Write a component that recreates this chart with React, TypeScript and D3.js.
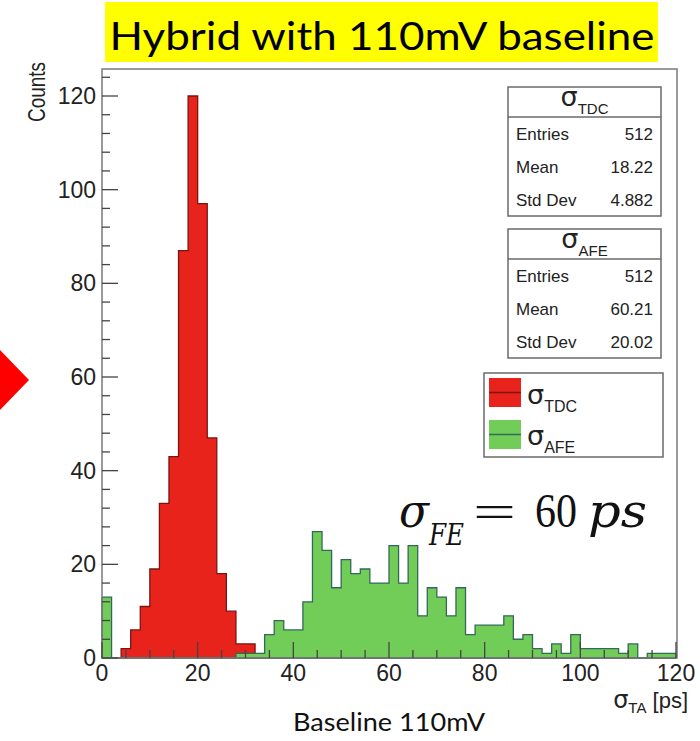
import React from 'react';
import * as d3 from 'd3';

// ---- data ----
const binWidth = 2;
const xDomain = [0, 120];
const yDomain = [0, 120];
const tdcCounts = [
  0, 0, 2, 6, 11, 19, 33, 43, 87, 120, 97, 47, 18, 10, 3, 3, 0, 0, 0, 0,
  0, 0, 0, 0, 0, 0, 0, 0, 0, 0, 0, 0, 0, 0, 0, 0, 0, 0, 0, 0,
  0, 0, 0, 0, 0, 0, 0, 0, 0, 0, 0, 0, 0, 0, 0, 0, 0, 0, 0, 0,
];
const afeCounts = [
  13, 0, 0, 0, 0, 0, 0, 0, 0, 0, 0, 0, 0, 0, 1, 1, 1, 5, 8, 6,
  6, 12, 27, 23, 15, 21, 18, 19, 16, 16, 24, 16, 24, 9, 15, 13, 9, 15, 5, 7,
  7, 7, 9, 4, 5, 2, 1, 3, 1, 5, 2, 2, 2, 2, 1, 3, 0, 1, 1, 1,
];
const xTicks = [0, 20, 40, 60, 80, 100, 120];
const yTicks = [0, 20, 40, 60, 80, 100, 120];
const tdcStats = [
  ['Entries', '512'],
  ['Mean', '18.22'],
  ['Std Dev', '4.882'],
];
const afeStats = [
  ['Entries', '512'],
  ['Mean', '60.21'],
  ['Std Dev', '20.02'],
];

const W = 700;
const H = 741;
const frame = { left: 102, right: 677, top: 69, bottom: 658 };

const RED = '#e8231b';
const RED_LINE = '#7a1512';
const GREEN = '#72cd58';
const GREEN_LINE = '#33695a';
const SANS = '"Liberation Sans", Arial, Helvetica, sans-serif';
const GREEK = '"DejaVu Sans", "Liberation Sans", sans-serif';
const SERIF = '"DejaVu Serif", "Liberation Serif", serif';
const SERIF2 = '"Liberation Serif", "DejaVu Serif", serif';

const x = d3.scaleLinear().domain(xDomain).range([102, 676]);
const y = d3.scaleLinear().domain(yDomain).range([658, 96]);

function histPath(counts: number[]): string {
  const pts: [number, number][] = [[x(0), y(0)]];
  counts.forEach((c, i) => {
    pts.push([x(i * binWidth), y(c)]);
    pts.push([x((i + 1) * binWidth), y(c)]);
  });
  pts.push([x(counts.length * binWidth), y(0)]);
  return (d3.line()(pts) || '') + 'Z';
}

function StatBox({ top, sub, rows }: { top: number; sub: string; rows: string[][] }) {
  const left = 508;
  const right = 661;
  const headH = 30;
  const h = 129;
  const rowH = 33;
  return (
    <g>
      <rect x={left} y={top} width={right - left} height={h} fill="#fff" stroke="#6a6a6a" strokeWidth={1.5} />
      <line x1={left} x2={right} y1={top + headH} y2={top + headH} stroke="#6a6a6a" strokeWidth={1.5} />
      <text x={(left + right) / 2} y={top + 19} textAnchor="middle" fill="#222">
        <tspan fontFamily={GREEK} fontSize={27}>σ</tspan>
        <tspan fontFamily={SANS} fontSize={15} dy={8}>{sub}</tspan>
      </text>
      {rows.map((r, i) => (
        <g key={r[0]}>
          <text x={left + 8} y={top + headH + 23 + i * rowH} fontFamily={SANS} fontSize={17} fill="#222">
            {r[0]}
          </text>
          <text x={right - 8} y={top + headH + 23 + i * rowH} fontFamily={SANS} fontSize={17} fill="#222" textAnchor="end">
            {r[1]}
          </text>
        </g>
      ))}
    </g>
  );
}

export default function App() {
  const xMinor = d3.range(0, 121, 5).filter((v) => v % 20 !== 0);
  const yMinor = d3.range(0, 126, 4).filter((v) => v % 20 !== 0);
  return (
    <svg width={W} height={H} style={{ position: 'absolute', left: 0, top: 0, background: '#fff' }}>
      <rect x={0} y={0} width={W} height={H} fill="#fff" />
      {/* title */}
      <rect x={105} y={2} width={553} height={60} fill="#ffff00" />
      <text x={382} y={50} textAnchor="middle" fontFamily="Lato, 'Open Sans', sans-serif" fontSize={38} fill="#000" textLength={545} lengthAdjust="spacingAndGlyphs">
        Hybrid with 110mV baseline
      </text>
      {/* red arrow */}
      <polygon points="0,350 29,380 0,410" fill="#ff0000" />

      {/* histograms */}
      <path d={histPath(tdcCounts)} fill={RED} stroke={RED_LINE} strokeWidth={1.3} />
      <path d={histPath(afeCounts)} fill={GREEN} stroke={GREEN_LINE} strokeWidth={1.3} />

      {/* frame */}
      <rect x={frame.left} y={frame.top} width={frame.right - frame.left} height={frame.bottom - frame.top} fill="none" stroke="#7a7a7a" strokeWidth={1.5} />

      {/* x ticks */}
      {xTicks.map((t) => (
        <line key={'xt' + t} x1={x(t)} x2={x(t)} y1={frame.bottom} y2={frame.bottom - 16} stroke="#444" strokeWidth={1.3} />
      ))}
      {xMinor.map((t) => (
        <line key={'xm' + t} x1={x(t)} x2={x(t)} y1={frame.bottom} y2={frame.bottom - 8} stroke="#444" strokeWidth={1.3} />
      ))}
      {xTicks.map((t) => (
        <text key={'xl' + t} x={x(t)} y={681} textAnchor="middle" fontFamily={SANS} fontSize={23} fill="#222">
          {t}
        </text>
      ))}
      {/* y ticks */}
      {yTicks.map((t) => (
        <line key={'yt' + t} x1={frame.left} x2={frame.left + 16} y1={y(t)} y2={y(t)} stroke="#444" strokeWidth={1.3} />
      ))}
      {yMinor.map((t) => (
        <line key={'ym' + t} x1={frame.left} x2={frame.left + 8} y1={y(t)} y2={y(t)} stroke="#444" strokeWidth={1.3} />
      ))}
      {yTicks.map((t) => (
        <text key={'yl' + t} x={96} y={y(t) + 8} textAnchor="end" fontFamily={SANS} fontSize={23} fill="#222">
          {t}
        </text>
      ))}

      {/* axis titles */}
      <text x={688} y={708} textAnchor="end" fill="#222">
        <tspan fontFamily={GREEK} fontSize={24}>σ</tspan>
        <tspan fontFamily={SANS} fontSize={15} dy={5}>TA</tspan>
        <tspan fontFamily={SANS} fontSize={22} dy={-5}> [ps]</tspan>
      </text>
      <text transform="translate(45,62) rotate(-90)" textAnchor="end" fontFamily={SANS} fontSize={24} fill="#222" textLength={60} lengthAdjust="spacingAndGlyphs">
        Counts
      </text>
      <text x={389} y={731} textAnchor="middle" fontFamily="Lato, 'Open Sans', sans-serif" fontSize={25} fill="#111" textLength={192} lengthAdjust="spacingAndGlyphs">
        Baseline 110mV
      </text>

      {/* stats boxes */}
      <StatBox top={87} sub="TDC" rows={tdcStats} />
      <StatBox top={229} sub="AFE" rows={afeStats} />

      {/* legend */}
      <rect x={484} y={373} width={179} height={84} fill="#fff" stroke="#6a6a6a" strokeWidth={1.5} />
      <rect x={489} y={378} width={32} height={29} fill={RED} />
      <line x1={489} x2={521} y1={392.5} y2={392.5} stroke={RED_LINE} strokeWidth={1.5} />
      <rect x={489} y={420} width={32} height={29} fill={GREEN} />
      <line x1={489} x2={521} y1={434.5} y2={434.5} stroke={GREEN_LINE} strokeWidth={1.5} />
      <text x={527} y={404} fill="#222">
        <tspan fontFamily={GREEK} fontSize={27}>σ</tspan>
        <tspan fontFamily={SANS} fontSize={16} dy={8}>TDC</tspan>
      </text>
      <text x={527} y={445} fill="#222">
        <tspan fontFamily={GREEK} fontSize={27}>σ</tspan>
        <tspan fontFamily={SANS} fontSize={16} dy={8}>AFE</tspan>
      </text>

      {/* annotation */}
      <g fill="#111">
        <text x={399} y={527} fontFamily={SERIF} fontStyle="italic" fontSize={46} textLength={30} lengthAdjust="spacingAndGlyphs">σ</text>
        <text x={429} y={545} fontFamily={SERIF} fontStyle="italic" fontSize={30} textLength={35} lengthAdjust="spacingAndGlyphs">FE</text>
        <text x={473} y={527} fontFamily={SERIF2} fontSize={46} textLength={43} lengthAdjust="spacingAndGlyphs">=</text>
        <text x={535} y={527} fontFamily={SERIF2} fontSize={49} textLength={42} lengthAdjust="spacingAndGlyphs">60</text>
        <text x={588} y={527} fontFamily={SERIF} fontStyle="italic" fontSize={46} textLength={59} lengthAdjust="spacingAndGlyphs">ps</text>
      </g>
    </svg>
  );
}
